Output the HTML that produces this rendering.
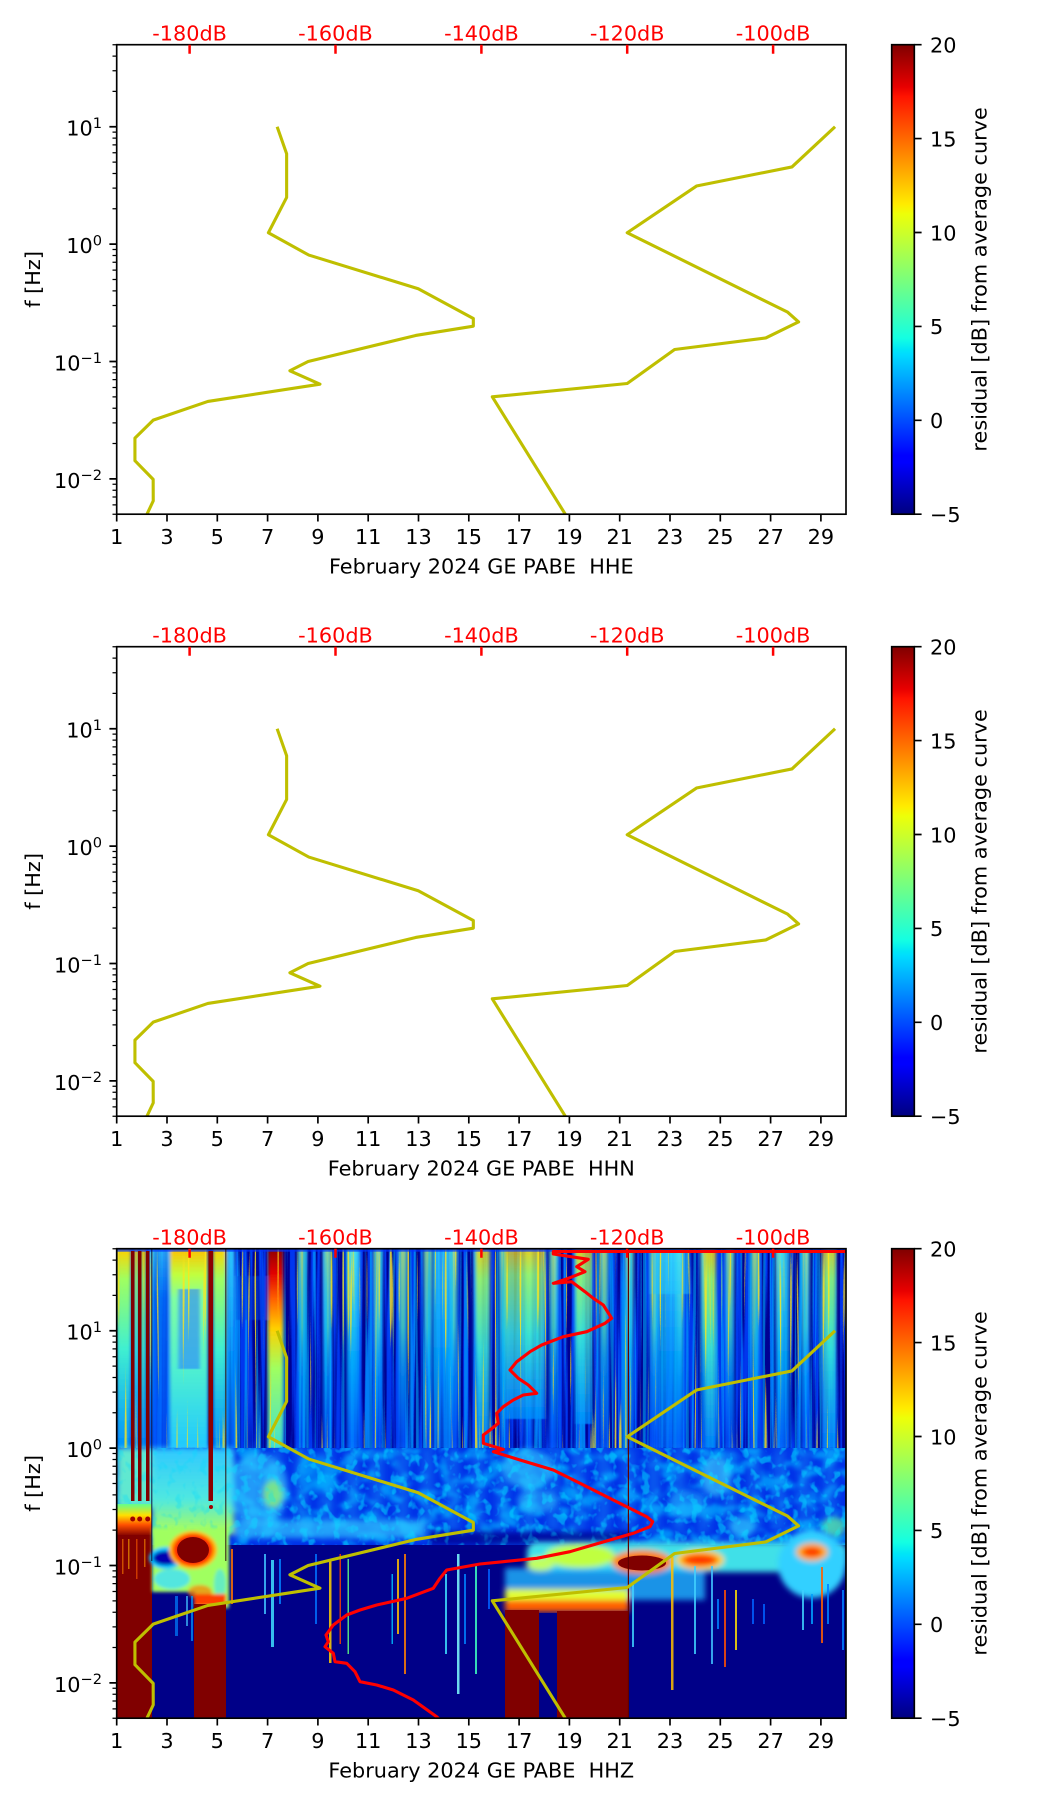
<!DOCTYPE html>
<html><head><meta charset="utf-8"><style>html,body{margin:0;padding:0;background:#fff}svg{display:block}</style></head>
<body>
<svg xmlns="http://www.w3.org/2000/svg" xmlns:xlink="http://www.w3.org/1999/xlink" width="1052" height="1806" viewBox="0 0 1052 1806">
<defs>
<linearGradient id="jet" x1="0" y1="1" x2="0" y2="0">
<stop offset="0" stop-color="#000080"/><stop offset="0.11" stop-color="#0000ff"/><stop offset="0.125" stop-color="#0000ff"/>
<stop offset="0.34" stop-color="#00dbff"/><stop offset="0.35" stop-color="#00e5f7"/><stop offset="0.375" stop-color="#14ffe2"/>
<stop offset="0.5" stop-color="#7bff7b"/><stop offset="0.64" stop-color="#eeff08"/><stop offset="0.66" stop-color="#ffec00"/>
<stop offset="0.89" stop-color="#ff1300"/><stop offset="0.91" stop-color="#e80000"/><stop offset="1" stop-color="#800000"/>
</linearGradient>
<linearGradient id="gA" x1="0" y1="0" x2="0" y2="1"><stop offset="0" stop-color="#ffd000"/><stop offset="0.15" stop-color="#a0ff60"/><stop offset="0.5" stop-color="#40f0d0"/><stop offset="1" stop-color="#0090ff"/></linearGradient>
<linearGradient id="gB" x1="0" y1="0" x2="0" y2="1"><stop offset="0" stop-color="#40e8ff"/><stop offset="0.6" stop-color="#00a8ff"/><stop offset="1" stop-color="#0068ff"/></linearGradient>
<linearGradient id="gC" x1="0" y1="0" x2="0" y2="1"><stop offset="0" stop-color="#900000"/><stop offset="0.12" stop-color="#e00000"/><stop offset="0.25" stop-color="#ff6000"/><stop offset="0.4" stop-color="#ffd000"/><stop offset="0.6" stop-color="#a0ff60"/><stop offset="1" stop-color="#40e0d0"/></linearGradient>
<linearGradient id="gD" x1="0" y1="0" x2="0" y2="1"><stop offset="0" stop-color="#ffc000"/><stop offset="0.13" stop-color="#c0ff40"/><stop offset="0.25" stop-color="#80ffa0"/><stop offset="0.6" stop-color="#50f0d0"/><stop offset="1" stop-color="#20c8ff"/></linearGradient>
<linearGradient id="gF" x1="0" y1="0" x2="0" y2="1"><stop offset="0" stop-color="#30c0ff"/><stop offset="0.25" stop-color="#0070ff"/><stop offset="1" stop-color="#0058ff"/></linearGradient>
<linearGradient id="gR" x1="0" y1="0" x2="0" y2="1"><stop offset="0" stop-color="#60ff90"/><stop offset="0.35" stop-color="#ffe000"/><stop offset="0.65" stop-color="#ff5000"/><stop offset="1" stop-color="#800000"/></linearGradient>
<linearGradient id="gCol" x1="0" y1="0" x2="0" y2="1"><stop offset="0" stop-color="#60ffc0"/><stop offset="0.3" stop-color="#20d0ff"/><stop offset="0.7" stop-color="#0090ff"/><stop offset="1" stop-color="#0050ff"/></linearGradient>
<linearGradient id="gCore" x1="0" y1="0" x2="0" y2="1"><stop offset="0" stop-color="#e0ff40"/><stop offset="0.6" stop-color="#60ffa0"/><stop offset="1" stop-color="#20c0ff" stop-opacity="0"/></linearGradient>
<linearGradient id="gML" x1="0" y1="0" x2="0" y2="1"><stop offset="0" stop-color="#30c8ff"/><stop offset="0.6" stop-color="#50e8e0"/><stop offset="1" stop-color="#b0ff50"/></linearGradient>
<pattern id="pDay" patternUnits="userSpaceOnUse" x="116.7" y="45" width="25.15" height="199">
<rect x="5" y="0" width="9" height="199" fill="url(#gCol)"/>
<rect x="8" y="0" width="3" height="130" fill="url(#gCore)"/>
</pattern>
<pattern id="pDay2" patternUnits="userSpaceOnUse" x="116.7" y="244" width="25.15" height="90">
<rect x="3" y="0" width="12" height="90" fill="#20b8ff"/>
</pattern>
<clipPath id="pc"><rect x="116.7" y="44.7" width="729.3" height="469.5"/></clipPath>
<filter id="bx" x="-5%" y="-5%" width="110%" height="110%"><feGaussianBlur stdDeviation="1.5 0.5"/></filter>
<filter id="b3" x="-20%" y="-30%" width="140%" height="160%"><feGaussianBlur stdDeviation="3"/></filter>
<filter id="b2" x="-20%" y="-30%" width="140%" height="160%"><feGaussianBlur stdDeviation="1.5"/></filter>
<filter id="b5" x="-10%" y="-20%" width="120%" height="140%"><feGaussianBlur stdDeviation="4 6"/></filter>
<filter id="tS" filterUnits="userSpaceOnUse" x="116" y="44" width="731" height="201" color-interpolation-filters="sRGB">
<feTurbulence type="fractalNoise" baseFrequency="0.3 0.003" numOctaves="2" seed="5"/>
<feColorMatrix type="matrix" values="0 0 0 0 0  0 0 0 0 0.72  0 0 0 0 1  8 0 0 0 -4.2"/>
</filter>
<filter id="tB" filterUnits="userSpaceOnUse" x="116" y="44" width="731" height="201" color-interpolation-filters="sRGB">
<feTurbulence type="fractalNoise" baseFrequency="0.22 0.004" numOctaves="2" seed="11"/>
<feColorMatrix type="matrix" values="0 0 0 0 0  0 0 0 0 0.25  0 0 0 0 1  0 6 0 0 -2.5"/>
</filter>
<filter id="tY" filterUnits="userSpaceOnUse" x="116" y="44" width="731" height="201" color-interpolation-filters="sRGB">
<feTurbulence type="fractalNoise" baseFrequency="0.4 0.006" numOctaves="1" seed="23"/>
<feColorMatrix type="matrix" values="0 0 0 0 1  0 0 0 0 0.9  0 0 0 0 0.1  12 0 0 0 -7.8"/>
</filter>
<filter id="tM" filterUnits="userSpaceOnUse" x="116" y="244" width="731" height="97" color-interpolation-filters="sRGB">
<feTurbulence type="fractalNoise" baseFrequency="0.05 0.07" numOctaves="3" seed="9"/>
<feColorMatrix type="matrix" values="0 0 0 0 0  0 0 0 0 0.7  0 0 0 0 1  5 0 0 0 -2.4"/>
<feGaussianBlur stdDeviation="1.5"/>
</filter>
<filter id="tM2" filterUnits="userSpaceOnUse" x="116" y="244" width="731" height="97" color-interpolation-filters="sRGB">
<feTurbulence type="fractalNoise" baseFrequency="0.12 0.1" numOctaves="2" seed="31"/>
<feColorMatrix type="matrix" values="0 0 0 0 0  0 0 0 0 0.85  0 0 0 0 1  6 0 0 0 -3.2"/>
</filter>

<g id="frame">
<rect x="116.7" y="44.7" width="729.3" height="469.5" fill="none" stroke="#000" stroke-width="1.67"/>
<path stroke="#000" stroke-width="1.67" fill="none" d="M116.7 514.2v7.3M167 514.2v7.3M217.3 514.2v7.3M267.6 514.2v7.3M317.9 514.2v7.3M368.2 514.2v7.3M418.5 514.2v7.3M468.8 514.2v7.3M519.1 514.2v7.3M569.4 514.2v7.3M619.7 514.2v7.3M670 514.2v7.3M720.3 514.2v7.3M770.6 514.2v7.3M820.9 514.2v7.3M116.7 126.74h-7.3M116.7 244.11h-7.3M116.7 361.49h-7.3M116.7 478.86h-7.3"/>
<path stroke="#000" stroke-width="1.25" fill="none" d="M116.7 514.2h-4.2M116.7 504.9h-4.2M116.7 497.05h-4.2M116.7 490.24h-4.2M116.7 484.24h-4.2M116.7 443.53h-4.2M116.7 422.86h-4.2M116.7 408.19h-4.2M116.7 396.82h-4.2M116.7 387.52h-4.2M116.7 379.67h-4.2M116.7 372.86h-4.2M116.7 366.86h-4.2M116.7 326.16h-4.2M116.7 305.49h-4.2M116.7 290.82h-4.2M116.7 279.45h-4.2M116.7 270.15h-4.2M116.7 262.3h-4.2M116.7 255.49h-4.2M116.7 249.49h-4.2M116.7 208.78h-4.2M116.7 188.11h-4.2M116.7 173.44h-4.2M116.7 162.07h-4.2M116.7 152.77h-4.2M116.7 144.92h-4.2M116.7 138.11h-4.2M116.7 132.11h-4.2M116.7 91.41h-4.2M116.7 70.74h-4.2M116.7 56.07h-4.2M116.7 44.7h-4.2"/>
<path stroke="#f00" stroke-width="2.5" fill="none" d="M189.6 44.7v9M335.5 44.7v9M481.4 44.7v9M627.2 44.7v9M773.1 44.7v9"/>
<rect x="891.7" y="44.7" width="22.6" height="469.5" fill="url(#jet)" stroke="#000" stroke-width="1.67"/>
<path stroke="#000" stroke-width="1.67" fill="none" d="M914.3 44.7h7.3M914.3 138.6h7.3M914.3 232.5h7.3M914.3 326.4h7.3M914.3 420.3h7.3M914.3 514.2h7.3"/>
</g>
<g id="models" fill="none" stroke="#bfbf00" stroke-width="3.1" stroke-linejoin="round">
<polyline points="277.15,126.74 286.63,153.79 286.63,197.41 268.39,232.74 308.8,255.08 418.27,288.75 473.33,318.47 473.33,326.16 415.71,335.45 308.14,361.49 289.91,370.79 319.96,384.16 207.86,401.45 153.24,420.14 134.93,438.16 134.93,460.69 153.17,479.37 153.24,500.88 146.97,514.2"/>
<polyline points="835.06,126.74 791.96,166.93 696.49,186.03 627.21,232.74 787.66,312.17 798.6,321.91 765.78,337.94 674.61,349.48 627.21,383.5 492.29,396.83 565.29,514.2"/>
</g>
</defs>

<rect x="0" y="0" width="1052" height="1806" fill="#fff"/>

<!-- PANEL 1 -->
<g>
<g clip-path="url(#pc)"><use xlink:href="#models"/></g>
<use xlink:href="#frame"/>
<g font-family="'DejaVu Sans','Liberation Sans',sans-serif" font-size="20.8">
<g fill="#f00" text-anchor="middle"><text x="189.6" y="40.7">-180dB</text><text x="335.5" y="40.7">-160dB</text><text x="481.4" y="40.7">-140dB</text><text x="627.2" y="40.7">-120dB</text><text x="773.1" y="40.7">-100dB</text></g>
<g text-anchor="middle"><text x="116.7" y="544">1</text><text x="167" y="544">3</text><text x="217.3" y="544">5</text><text x="267.6" y="544">7</text><text x="317.9" y="544">9</text><text x="368.2" y="544">11</text><text x="418.5" y="544">13</text><text x="468.8" y="544">15</text><text x="519.1" y="544">17</text><text x="569.4" y="544">19</text><text x="619.7" y="544">21</text><text x="670" y="544">23</text><text x="720.3" y="544">25</text><text x="770.6" y="544">27</text><text x="820.9" y="544">29</text></g>
<g text-anchor="end"><text x="102" y="135.7">10<tspan font-size="14.6" dy="-7.7">1</tspan></text><text x="102" y="253.1">10<tspan font-size="14.6" dy="-7.7">0</tspan></text><text x="102" y="370.5">10<tspan font-size="14.6" dy="-7.7">−1</tspan></text><text x="102" y="487.9">10<tspan font-size="14.6" dy="-7.7">−2</tspan></text></g>
<text x="481.3" y="573.3" text-anchor="middle">February 2024 GE PABE&#160; HHE</text>
<text transform="translate(40,279.4) rotate(-90)" text-anchor="middle">f [Hz]</text>
<text x="930" y="52.5">20</text><text x="930" y="146.4">15</text><text x="930" y="240.3">10</text><text x="930" y="334.2">5</text><text x="930" y="428.1">0</text><text x="930" y="522">−5</text>
<text transform="translate(986.5,279.4) rotate(-90)" text-anchor="middle">residual [dB] from average curve</text>
</g>
</g>

<!-- PANEL 2 -->
<g transform="translate(0,602)">
<g clip-path="url(#pc)"><use xlink:href="#models"/></g>
<use xlink:href="#frame"/>
<g font-family="'DejaVu Sans','Liberation Sans',sans-serif" font-size="20.8">
<g fill="#f00" text-anchor="middle"><text x="189.6" y="40.7">-180dB</text><text x="335.5" y="40.7">-160dB</text><text x="481.4" y="40.7">-140dB</text><text x="627.2" y="40.7">-120dB</text><text x="773.1" y="40.7">-100dB</text></g>
<g text-anchor="middle"><text x="116.7" y="544">1</text><text x="167" y="544">3</text><text x="217.3" y="544">5</text><text x="267.6" y="544">7</text><text x="317.9" y="544">9</text><text x="368.2" y="544">11</text><text x="418.5" y="544">13</text><text x="468.8" y="544">15</text><text x="519.1" y="544">17</text><text x="569.4" y="544">19</text><text x="619.7" y="544">21</text><text x="670" y="544">23</text><text x="720.3" y="544">25</text><text x="770.6" y="544">27</text><text x="820.9" y="544">29</text></g>
<g text-anchor="end"><text x="102" y="135.7">10<tspan font-size="14.6" dy="-7.7">1</tspan></text><text x="102" y="253.1">10<tspan font-size="14.6" dy="-7.7">0</tspan></text><text x="102" y="370.5">10<tspan font-size="14.6" dy="-7.7">−1</tspan></text><text x="102" y="487.9">10<tspan font-size="14.6" dy="-7.7">−2</tspan></text></g>
<text x="481.3" y="573.3" text-anchor="middle">February 2024 GE PABE&#160; HHN</text>
<text transform="translate(40,279.4) rotate(-90)" text-anchor="middle">f [Hz]</text>
<text x="930" y="52.5">20</text><text x="930" y="146.4">15</text><text x="930" y="240.3">10</text><text x="930" y="334.2">5</text><text x="930" y="428.1">0</text><text x="930" y="522">−5</text>
<text transform="translate(986.5,279.4) rotate(-90)" text-anchor="middle">residual [dB] from average curve</text>
</g>
</g>

<!-- PANEL 3 -->
<g transform="translate(0,1204)">
<g clip-path="url(#pc)">
<rect x="116" y="44" width="731" height="471" fill="#000088"/>
<!-- upper region -->
<rect x="116" y="44" width="731" height="201" fill="#000092"/>
<rect x="116" y="44" width="731" height="201" filter="url(#tB)" opacity="0.85"/>
<rect x="283" y="45" width="563" height="199" fill="url(#pDay)" opacity="0.8" filter="url(#bx)"/>
<rect x="116" y="44" width="731" height="201" filter="url(#tS)" opacity="0.55"/>
<g filter="url(#bx)">
<rect x="117" y="45" width="14" height="199" fill="url(#gA)"/>
<rect x="134" y="45" width="4.5" height="199" fill="url(#gA)"/>
<rect x="141" y="45" width="5" height="199" fill="url(#gA)"/>
<rect x="149" y="45" width="3" height="199" fill="url(#gB)"/>
<rect x="152" y="45" width="18" height="199" fill="url(#gF)" opacity="0.8"/>
<rect x="170" y="45" width="38" height="199" fill="url(#gD)"/>
<rect x="178" y="85" width="22" height="80" fill="#2a80ff" opacity="0.6"/>
<rect x="213" y="45" width="13" height="199" fill="url(#gA)"/>
<rect x="226" y="45" width="9" height="199" fill="url(#gB)" opacity="0.7"/>
<rect x="235" y="72" width="32" height="44" fill="#0040e0" opacity="0.5"/>
<rect x="268" y="45" width="15" height="199" fill="url(#gC)"/>
<rect x="347" y="45" width="13" height="199" fill="url(#gB)" opacity="0.7"/>
<rect x="433" y="45" width="17" height="199" fill="url(#gB)" opacity="0.6"/>
<rect x="477" y="45" width="13" height="199" fill="url(#gA)" opacity="0.8"/>
<rect x="505" y="45" width="40" height="170" fill="url(#gA)" opacity="0.75"/>
<rect x="576" y="45" width="16" height="175" fill="url(#gA)" opacity="0.75"/>
<rect x="650" y="45" width="40" height="45" fill="#20c0ff" opacity="0.5"/>
<rect x="658" y="45" width="24" height="199" fill="url(#gB)" opacity="0.7"/>
<rect x="705" y="45" width="11" height="199" fill="url(#gA)" opacity="0.85"/>
<rect x="778" y="45" width="12" height="199" fill="url(#gB)" opacity="0.7"/>
<rect x="822" y="45" width="14" height="199" fill="url(#gA)" opacity="0.7"/>
</g>
<rect x="116" y="44" width="731" height="201" filter="url(#tY)" opacity="0.8"/>
<rect x="116" y="44.7" width="731" height="3" fill="#0030ff" opacity="0.7"/>

<!-- middle region -->
<rect x="116" y="244" width="731" height="97" fill="#0030e8"/>
<rect x="116" y="244" width="731" height="97" filter="url(#tM)" opacity="0.7"/>
<rect x="116" y="244" width="731" height="97" filter="url(#tM2)" opacity="0.35"/>
<rect x="230" y="244" width="616" height="85" fill="url(#pDay2)" opacity="0.3" filter="url(#b5)"/>
<g filter="url(#b3)">
<rect x="117" y="244" width="35" height="60" fill="#60e8d0"/>
<rect x="152" y="244" width="82" height="86" fill="url(#gML)"/>
<ellipse cx="258" cy="285" rx="30" ry="36" fill="#30c8ff" opacity="0.6"/>
<ellipse cx="273" cy="290" rx="10" ry="14" fill="#a0ff60" opacity="0.7"/>
<rect x="235" y="316" width="190" height="18" fill="#30c8ff" opacity="0.7"/>
<ellipse cx="315" cy="270" rx="18" ry="20" fill="#00b0ff" opacity="0.5"/>
<ellipse cx="528" cy="265" rx="25" ry="20" fill="#30d0ff" opacity="0.6"/>
<ellipse cx="537" cy="297" rx="20" ry="12" fill="#30d0ff" opacity="0.5"/>
<ellipse cx="686" cy="300" rx="18" ry="14" fill="#20c0ff" opacity="0.5"/>
<ellipse cx="716" cy="272" rx="14" ry="20" fill="#40e0ff" opacity="0.6"/>
<ellipse cx="742" cy="323" rx="12" ry="10" fill="#30d0ff" opacity="0.7"/>
<ellipse cx="834" cy="323" rx="12" ry="10" fill="#60ffa0" opacity="0.7"/>
<rect x="430" y="328" width="200" height="13" fill="#000090" opacity="0.8"/>
</g>
<rect x="117" y="244" width="117" height="86" filter="url(#tM2)" opacity="0.3"/>

<!-- left lower features -->
<rect x="117" y="300" width="35" height="32" fill="url(#gR)"/>
<rect x="117" y="331" width="35" height="184" fill="#800000"/>
<g opacity="0.6"><rect x="122" y="335" width="1.5" height="35" fill="#ff8000"/><rect x="128" y="335" width="1.5" height="30" fill="#ffb000"/><rect x="136" y="335" width="1.5" height="40" fill="#ff6000"/><rect x="144" y="335" width="1.5" height="28" fill="#ff9000"/></g>
<g filter="url(#b2)">
<rect x="152" y="324" width="43" height="64" fill="#a0ff60"/>
<rect x="195" y="324" width="34" height="80" fill="#a0ff60"/>
<ellipse cx="172" cy="375" rx="18" ry="10" fill="#40e0ff" opacity="0.8"/>
<ellipse cx="166" cy="354" rx="17" ry="11" fill="#00c0ff"/>
<ellipse cx="166" cy="354" rx="13" ry="7" fill="#0000b0"/>
<ellipse cx="193" cy="346" rx="24" ry="19" fill="#ffb000"/>
<ellipse cx="193" cy="346" rx="20" ry="16" fill="#ff3000"/>
<ellipse cx="200" cy="388" rx="12" ry="7" fill="#ff8000" opacity="0.7"/>
<ellipse cx="220" cy="380" rx="6" ry="15" fill="#40e0ff" opacity="0.6"/>
<rect x="194" y="390" width="32" height="12" fill="#ff4000"/>
</g>
<ellipse cx="193" cy="346" rx="16" ry="13" fill="#800000"/>
<rect x="194" y="400" width="32" height="115" fill="#800000"/>
<rect x="175" y="392" width="3" height="40" fill="#0080ff" opacity="0.7"/>
<rect x="186" y="392" width="2" height="30" fill="#40c0ff" opacity="0.7"/>
<rect x="191" y="392" width="2" height="45" fill="#00a0ff" opacity="0.7"/>

<!-- right lower band -->
<g filter="url(#b3)">
<rect x="527" y="338" width="320" height="30" rx="10" fill="#40e0e8"/>
<rect x="505" y="364" width="200" height="32" fill="#20b8ff" opacity="0.8"/>
<rect x="505" y="385" width="124" height="14" fill="#e0ff30"/>
<rect x="505" y="396" width="124" height="12" fill="#ff6000"/>
<ellipse cx="580" cy="352" rx="35" ry="12" fill="#c0ff40"/>
<ellipse cx="642" cy="358" rx="30" ry="12" fill="#ff8000"/>
<ellipse cx="700" cy="356" rx="24" ry="10" fill="#ffd000"/>
<ellipse cx="700" cy="356" rx="18" ry="6" fill="#ff3000"/>
<ellipse cx="812" cy="360" rx="34" ry="34" fill="#30d0ff"/>
<ellipse cx="812" cy="348" rx="16" ry="9" fill="#ffb000"/>
<ellipse cx="812" cy="348" rx="10" ry="5" fill="#ff3000"/>
<ellipse cx="540" cy="360" rx="14" ry="7" fill="#c0ff60"/>
</g>
<ellipse cx="642" cy="359" rx="24" ry="7.5" fill="#800000"/>
<rect x="505" y="406" width="34" height="109" fill="#800000"/>
<rect x="557" y="407" width="72" height="108" fill="#800000"/>
<rect x="539" y="409" width="18" height="106" fill="#000088"/>

<!-- thin streaks lower -->
<g opacity="0.85">
<rect x="231" y="345" width="2" height="55" fill="#ff7000"/>
<rect x="264" y="350" width="2" height="60" fill="#40c0ff"/>
<rect x="271" y="356" width="3" height="87" fill="#40e0ff"/>
<rect x="279" y="355" width="2" height="45" fill="#0080ff"/>
<rect x="315" y="350" width="2" height="70" fill="#0070ff"/>
<rect x="329" y="356" width="2.5" height="103" fill="#ffd000"/>
<rect x="339.5" y="350" width="1.5" height="90" fill="#ff4000"/>
<rect x="347.5" y="355" width="1.5" height="95" fill="#60ff80"/>
<rect x="391.5" y="370" width="1.5" height="70" fill="#00c0ff"/>
<rect x="397" y="355" width="2" height="75" fill="#ffc000"/>
<rect x="404" y="350" width="2" height="120" fill="#ff8000"/>
<rect x="445" y="370" width="2" height="80" fill="#40e0ff"/>
<rect x="457" y="350" width="2.5" height="140" fill="#80ffff"/>
<rect x="464" y="370" width="2" height="70" fill="#0080ff"/>
<rect x="475" y="360" width="2" height="110" fill="#40ffc0"/>
<rect x="488" y="365" width="2" height="40" fill="#0060ff"/>
<rect x="632" y="380" width="2" height="63" fill="#40d0ff"/>
<rect x="671" y="353" width="2.5" height="133" fill="#ffc000"/>
<rect x="694" y="362" width="2" height="88" fill="#40d0ff"/>
<rect x="711" y="362" width="2" height="98" fill="#40c0ff"/>
<rect x="717" y="395" width="2" height="30" fill="#0080ff"/>
<rect x="724" y="386" width="2" height="77" fill="#ff5000"/>
<rect x="735" y="386" width="2" height="60" fill="#ffe000"/>
<rect x="752" y="395" width="2" height="25" fill="#0060ff"/>
<rect x="763" y="400" width="2" height="20" fill="#0060ff"/>
<rect x="802" y="386" width="2" height="40" fill="#40d0ff"/>
<rect x="811" y="390" width="2" height="30" fill="#00a0ff"/>
<rect x="821" y="363" width="2" height="76" fill="#ff6000"/>
<rect x="827" y="380" width="2" height="40" fill="#0080ff"/>
<rect x="842" y="386" width="2" height="60" fill="#0080ff"/>
</g>

<!-- dark red lines / thin lines -->
<rect x="131" y="47" width="3.5" height="250" fill="#800000"/>
<rect x="138" y="47" width="3.5" height="250" fill="#800000"/>
<rect x="146" y="47" width="3.5" height="250" fill="#800000"/>
<rect x="208.5" y="47" width="4.5" height="250" fill="#8c0000"/>
<circle cx="132.7" cy="315" r="2.5" fill="#a00000"/><circle cx="139.7" cy="315" r="2.5" fill="#a00000"/><circle cx="147.7" cy="315" r="2.5" fill="#a00000"/><circle cx="211" cy="303" r="2" fill="#a00000"/>
<rect x="151.3" y="45" width="1" height="312" fill="#101040"/>
<rect x="225.3" y="45" width="1" height="312" fill="#301010"/>
<rect x="627.8" y="45" width="1.2" height="470" fill="#600000"/>

<use xlink:href="#models"/>
<polyline fill="none" stroke="#ff0000" stroke-width="3.1" stroke-linejoin="round" points="846,47.5 553.3,47.5 553.3,50 588.3,55.3 576.7,62.7 585,67.7 568.3,74.3 553.3,79.3 571.7,77.7 585,87.7 593.3,94.3 603.3,101 611.7,114.3 605,119.3 586.7,127.7 563.3,132.7 541.7,141 530,147.7 516.7,157.7 510,166 518.3,174.3 528.3,181 536.7,189.3 523.3,191 513.3,196 503.3,202.7 496.7,209.3 498.3,219.3 490,226 483.3,231 483.3,239.3 503.3,245.3 493.3,247.7 520,256 553.3,266 580,279.3 603.3,291 626.7,302.7 646.7,312.7 652.7,317.7 650,322.7 633.3,329.3 610,336 586.7,342.7 570,347.7 536.7,354.3 503.3,357.7 480,360 446.7,366 440,374.3 433.3,384.3 406.7,394.3 376.7,401 360,406 346.7,411 333.3,421 326,431 328.3,437.7 325,442.7 333.3,449.3 335,457.7 346.7,459.3 355,467.7 360,477.7 376.7,481 393.3,486 413.3,496 436.7,512.7 440,516"/>
</g>
<use xlink:href="#frame"/>
<g font-family="'DejaVu Sans','Liberation Sans',sans-serif" font-size="20.8">
<g fill="#f00" text-anchor="middle"><text x="189.6" y="40.7">-180dB</text><text x="335.5" y="40.7">-160dB</text><text x="481.4" y="40.7">-140dB</text><text x="627.2" y="40.7">-120dB</text><text x="773.1" y="40.7">-100dB</text></g>
<g text-anchor="middle"><text x="116.7" y="544">1</text><text x="167" y="544">3</text><text x="217.3" y="544">5</text><text x="267.6" y="544">7</text><text x="317.9" y="544">9</text><text x="368.2" y="544">11</text><text x="418.5" y="544">13</text><text x="468.8" y="544">15</text><text x="519.1" y="544">17</text><text x="569.4" y="544">19</text><text x="619.7" y="544">21</text><text x="670" y="544">23</text><text x="720.3" y="544">25</text><text x="770.6" y="544">27</text><text x="820.9" y="544">29</text></g>
<g text-anchor="end"><text x="102" y="135.7">10<tspan font-size="14.6" dy="-7.7">1</tspan></text><text x="102" y="253.1">10<tspan font-size="14.6" dy="-7.7">0</tspan></text><text x="102" y="370.5">10<tspan font-size="14.6" dy="-7.7">−1</tspan></text><text x="102" y="487.9">10<tspan font-size="14.6" dy="-7.7">−2</tspan></text></g>
<text x="481.3" y="573.3" text-anchor="middle">February 2024 GE PABE&#160; HHZ</text>
<text transform="translate(40,279.4) rotate(-90)" text-anchor="middle">f [Hz]</text>
<text x="930" y="52.5">20</text><text x="930" y="146.4">15</text><text x="930" y="240.3">10</text><text x="930" y="334.2">5</text><text x="930" y="428.1">0</text><text x="930" y="522">−5</text>
<text transform="translate(986.5,279.4) rotate(-90)" text-anchor="middle">residual [dB] from average curve</text>
</g>
</g>
</svg>
</body></html>
